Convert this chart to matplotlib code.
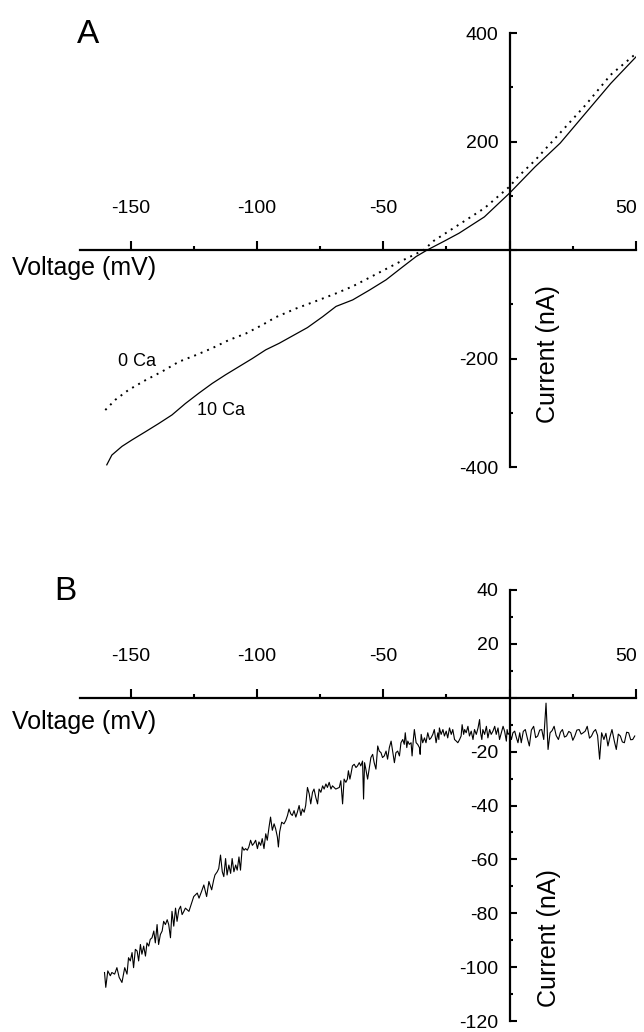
import matplotlib
matplotlib.use('Agg')
import matplotlib.pyplot as plt
from matplotlib.ticker import MultipleLocator
from matplotlib.transforms import ScaledTranslation

plt.rcParams['font.family'] = ['Liberation Sans', 'DejaVu Sans']

# ---------------- Panel A data ----------------
a_v_10ca = [-159.4, -157.4, -153.4, -149.4, -144.1, -138.9, -133.6, -128.3, -123.0, -117.7,
            -112.4, -107.1, -101.8, -96.5, -91.2, -80.0, -74.0, -68.7, -62.1, -55.5, -48.9,
            -42.3, -37.0, -32.6, -26.0, -20.0, -10.0, 0.0, 10.0, 20.0, 30.0, 40.0, 50.0]
a_i_10ca = [-396, -378, -362, -350, -335, -320, -304, -283, -264, -246,
            -230, -215, -200, -184, -172, -143, -123, -104, -92, -74, -55,
            -31, -12, 0, 16, 31, 61, 105, 153, 197, 252, 307, 356]

a_v_0ca = [-160.0, -156.0, -150.8, -144.1, -137.5, -130.9, -124.3, -117.7, -111.1, -104.4,
           -97.8, -92.6, -84.6, -75.4, -68.7, -62.1, -55.5, -48.9, -42.3, -37.0, -34.0,
           -30.0, -20.0, -10.0, 0.0, 3.3, 10.0, 20.0, 30.0, 40.0, 50.0]
a_i_0ca = [-295, -276, -258, -240, -224, -206, -194, -181, -166, -154,
           -138, -124, -108, -92, -80, -67, -51, -35, -19, -7, 0,
           17, 47, 77, 117, 135, 165, 216, 267, 323, 362]

# ---------------- Panel B data ----------------
b_v = [-160.3, -159.8, -159.0, -158.0, -157.4, -156.3, -155.4, -154.5, -153.4, -152.3, -151.4,
       -150.8, -150.1, -149.4, -148.8, -148.1, -147.4, -146.8, -146.1, -145.5, -144.8, -144.1,
       -143.5, -142.8, -142.2, -141.5, -140.8, -140.2, -139.5, -138.9, -138.2, -137.5, -136.9,
       -136.2, -135.5, -134.9, -134.2, -133.6, -132.9, -132.2, -131.6, -130.9, -130.2, -129.6,
       -128.9, -128.3, -126.9, -125.6, -125.0, -123.6, -122.9, -121.9, -121.0, -119.9, -119.0,
       -117.9, -117.1,
       -116.6, -115.7, -115.1, -114.4, -113.7, -113.1, -112.4, -111.8, -111.1, -110.4, -109.8,
       -109.1, -108.4, -107.8, -107.1, -106.5, -105.8, -105.1, -104.5, -103.8, -103.2, -102.5,
       -101.8, -101.2, -100.5, -99.8, -99.2, -98.5, -97.9, -97.2, -96.5, -95.9, -95.2, -94.6,
       -93.9, -93.2, -92.6, -91.9, -91.5, -91.0, -90.2, -89.3, -88.6, -87.9, -87.3, -86.6,
       -86.0, -85.3, -84.6, -84.0, -83.3, -82.6, -82.0, -81.3, -80.7, -80.0, -79.3, -78.7,
       -78.0, -77.4, -76.7, -76.0, -75.4, -74.7, -74.0, -73.4, -72.7, -72.1, -71.4, -70.7,
       -70.1, -68.8, -67.4, -66.8, -66.1, -65.5, -64.8,
       -64.2, -63.8, -63.2, -62.8, -62.2, -61.5, -60.8, -60.2, -59.5, -58.9, -58.2, -57.8,
       -57.4, -56.9, -56.2, -55.6, -54.9, -54.2, -53.6, -52.9, -52.2, -51.6, -50.9, -50.3,
       -49.6, -48.9, -48.3, -47.6, -46.9, -46.3, -45.6, -45.0, -44.3, -43.6, -43.0, -42.3,
       -41.7, -41.3, -40.7, -40.3, -39.7, -39.0, -38.6, -38.1, -37.7, -37.0, -36.4, -35.7,
       -35.4, -35.0, -34.4, -33.7, -33.1, -32.4, -31.7, -31.1, -30.4, -29.8, -29.1, -28.4,
       -28.0,
       -27.8, -27.1, -26.4, -25.8, -25.1, -24.5, -23.8, -23.1, -22.5, -21.8, -21.1, -20.5,
       -19.8, -19.2, -18.8, -18.2, -17.8, -17.2, -16.5, -15.9, -15.2, -14.5, -13.9, -13.2,
       -12.5, -11.9, -11.5, -11.0, -10.6, -9.9, -9.2, -8.6, -7.9, -7.3, -6.6, -5.9, -5.3,
       -4.6, -4.0, -3.3, -2.6, -2.0, -1.3, -1.0, -0.6, 0.0, 0.7, 1.3, 2.0, 2.7, 3.3, 4.0,
       4.6, 5.4, 6.2, 7.0, 7.8, 8.6, 9.5, 10.3, 11.1, 11.9, 12.7, 13.5, 14.4, 15.2, 16.0,
       16.8, 17.6, 18.4, 19.3, 20.1, 20.9, 21.7, 22.5, 23.4, 24.2, 25.0, 25.8, 26.6, 27.5,
       28.3, 29.1, 29.9, 30.7, 31.6, 32.4, 33.2, 34.0, 34.8, 35.6, 36.4, 37.3, 38.1, 38.9,
       39.7, 40.5, 41.4, 42.2, 43.0, 43.8, 44.6, 45.4, 46.3, 47.1, 47.9, 48.7, 49.5]
b_i = [-102.0, -107.5, -101.4, -103.2, -102.0, -102.6, -100.2, -103.8, -105.7, -100.2, -102.6,
       -96.5, -97.7, -94.6, -100.2, -93.4, -94.0, -97.7, -91.6, -95.2, -92.2, -95.9,
       -91.0, -92.2, -89.7, -89.1, -86.6, -91.0, -84.2, -91.6, -87.9, -86.6, -83.0,
       -84.2, -82.4, -84.2, -89.1, -79.3, -84.8, -78.1, -83.0, -78.7, -77.4, -80.5,
       -79.3, -78.1, -79.3, -75.6, -73.8, -72.5, -74.4, -71.9, -69.5, -73.8, -68.2,
       -71.3, -67.6,
       -65.8, -64.6, -63.4, -58.4, -64.6, -66.4, -59.7, -65.8, -62.1, -65.2, -59.7,
       -64.6, -62.1, -64.0, -59.1, -64.0, -55.4, -56.6, -56.0, -56.6, -55.4, -52.9,
       -54.8, -54.1, -52.9, -56.0, -53.5, -54.8, -52.3, -56.0, -50.5, -52.9, -48.0, -44.3,
       -49.2, -46.8, -48.6, -51.7, -55.4, -49.8, -46.2, -46.8, -45.6, -43.7, -41.3, -43.1,
       -43.7, -41.9, -44.3, -42.5, -40.0, -43.7, -41.3, -42.5, -40.0, -33.3, -35.7, -39.4,
       -35.1, -33.9, -37.0, -39.4, -33.9, -35.1, -32.7, -33.9, -32.0, -33.3, -31.4, -33.9,
       -32.7, -33.9, -33.3, -30.8, -39.4, -30.2, -31.4,
       -30.2, -27.1, -30.2, -28.4, -25.3, -24.7, -25.9, -25.3, -24.1, -25.3, -23.5, -37.6,
       -24.1, -26.5, -30.2, -26.5, -22.2, -21.0, -24.1, -26.5, -17.9, -19.8, -20.4, -22.2,
       -21.6, -19.8, -22.8, -18.5, -16.1, -19.8, -24.1, -20.4, -19.8, -21.6, -16.7, -15.5,
       -17.3, -13.0, -18.5, -16.1, -17.3, -16.7, -21.6, -15.5, -11.8, -16.7, -17.3, -18.5,
       -21.0, -13.6, -16.7, -14.9, -16.7, -13.0, -15.5, -14.9, -13.6, -11.8, -16.7, -13.0,
       -15.5,
       -11.2, -13.6, -11.8, -14.2, -12.4, -14.9, -11.2, -13.6, -11.8, -15.5, -16.1, -16.7,
       -15.5, -14.2, -10.0, -13.6, -11.8, -13.0, -10.6, -14.2, -12.4, -15.5, -11.8, -13.6,
       -11.2, -8.1, -13.0, -15.5, -11.8, -13.6, -10.6, -14.9, -11.8, -13.6, -12.4, -10.6, -13.6,
       -11.2, -15.5, -13.0, -10.6, -12.4, -16.1, -11.8, -13.6, -13.0, -15.5, -13.0, -12.4, -14.9,
       -16.7, -13.0,
       -16.7, -12.5, -11.8, -15.0, -17.9, -12.0, -10.6, -14.8, -14.2, -12.0, -11.8, -15.5,
       -2.0, -19.2, -13.0, -12.2, -10.6, -14.0, -15.5, -12.8, -11.8, -14.6, -14.2, -12.5,
       -13.0, -15.8, -14.2, -12.0, -11.8, -13.5, -13.0, -12.4, -10.6, -15.0, -14.2, -12.6,
       -11.8, -14.0, -22.8, -13.0, -15.5, -13.2, -17.9, -14.5, -11.8, -16.0, -19.2, -13.5,
       -14.2, -16.4, -16.7, -12.8, -13.0, -15.6, -15.5, -14.2]

# ---------------- Axes ticks ----------------
x_ticks = [-150, -100, -50, 0, 50]
x_tick_labels = ['-150', '-100', '-50', '', '50']
a_y_ticks = [-400, -200, 0, 200, 400]
a_y_tick_labels = ['-400', '-200', '', '200', '400']
b_y_ticks = [-120, -100, -80, -60, -40, -20, 0, 20, 40]
b_y_tick_labels = ['-120', '-100', '-80', '-60', '-40', '-20', '', '20', '40']

W, H = 644, 1032
fig = plt.figure(figsize=(W / 100, H / 100), dpi=100)
fig.patch.set_facecolor('white')

axA = fig.add_axes([80 / W, 1 - 467 / H, 556 / W, 434 / H])
axB = fig.add_axes([80 / W, 1 - 1021 / H, 556 / W, 431 / H])


def style(ax, ylim, yticks, ylabels, yminor):
    ax.set_xlim(-170, 50)
    ax.set_ylim(*ylim)
    ax.patch.set_alpha(0)
    for s in ['top', 'right']:
        ax.spines[s].set_visible(False)
    for s in ['left', 'bottom']:
        ax.spines[s].set_position(('data', 0))
        ax.spines[s].set_linewidth(1.6)
    ax.set_xticks(x_ticks)
    ax.set_xticklabels(x_tick_labels)
    ax.xaxis.set_minor_locator(MultipleLocator(25))
    ax.set_yticks(yticks)
    ax.set_yticklabels(ylabels)
    ax.yaxis.set_minor_locator(MultipleLocator(yminor))
    ax.tick_params(axis='x', which='both', direction='in', pad=-36, labelsize=14, width=1.5)
    ax.tick_params(axis='x', which='major', length=6.5)
    ax.tick_params(axis='x', which='minor', length=3)
    ax.tick_params(axis='y', which='both', direction='in', pad=8, labelsize=14, width=1.5)
    ax.tick_params(axis='y', which='major', length=5)
    ax.tick_params(axis='y', which='minor', length=2.5)
    # the last x label ("50") sits slightly left of its tick, as in the reference
    lbl = ax.get_xticklabels()[-1]
    lbl.set_transform(lbl.get_transform() + ScaledTranslation(-7 / 72, 0, fig.dpi_scale_trans))


style(axA, (-400, 400), a_y_ticks, a_y_tick_labels, 100)
style(axB, (-120, 40), b_y_ticks, b_y_tick_labels, 10)

axA.plot(a_v_10ca, a_i_10ca, color='black', lw=0.9)
axA.plot(a_v_0ca, a_i_0ca, color='black', lw=1.4, linestyle=(0, (1, 2.6)))
axA.text(-154.8, -205, '0 Ca', fontsize=13, ha='left', va='center')
axA.text(-123.8, -295, '10 Ca', fontsize=13, ha='left', va='center')

axB.plot(b_v, b_i, color='black', lw=0.8)

# panel letters and axis titles
fig.text(77 / W, 1 - 34 / H, 'A', fontsize=24, ha='left', va='center')
fig.text(54 / W, 1 - 592 / H, 'B', fontsize=24, ha='left', va='center')
fig.text(12 / W, 1 - 268 / H, 'Voltage (mV)', fontsize=18, ha='left', va='center')
fig.text(12 / W, 1 - 722 / H, 'Voltage (mV)', fontsize=18, ha='left', va='center')
fig.text(548 / W, 1 - 354 / H, 'Current (nA)', fontsize=18, rotation=90, ha='center', va='center')
fig.text(549 / W, 1 - 938 / H, 'Current (nA)', fontsize=18, rotation=90, ha='center', va='center')

fig.savefig('out.png', dpi=100, facecolor='white')
